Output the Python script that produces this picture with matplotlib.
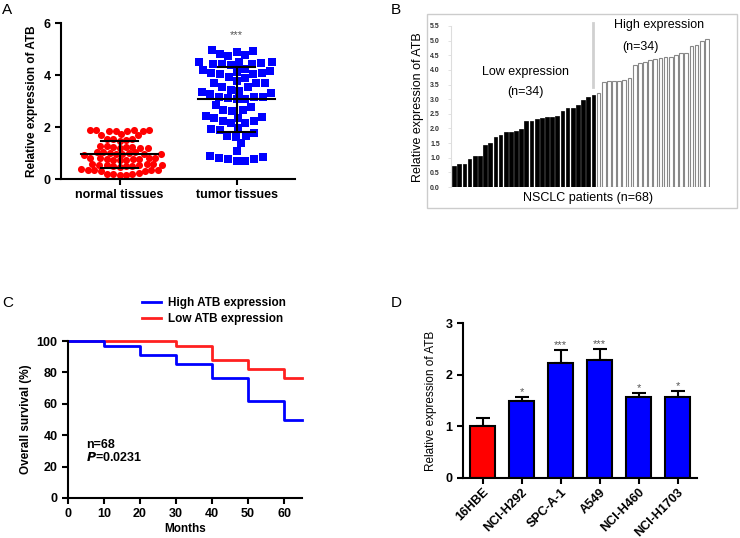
import numpy as np
import matplotlib
matplotlib.use("Agg")
import matplotlib.pyplot as plt
from matplotlib.patches import Rectangle
from matplotlib.lines import Line2D

plt.rcParams['font.family'] = ['Liberation Sans', 'DejaVu Sans']

# ---- data ----
# A: scatter of relative expression
normal_tissues = [1.90, 1.89, 1.88, 1.87, 1.86, 1.85, 1.84, 1.83,
                  1.72, 1.70, 1.68,
                  1.55, 1.53, 1.52, 1.50, 1.48,
                  1.28, 1.26, 1.25, 1.24, 1.22, 1.20, 1.19, 1.18,
                  1.05, 1.04, 1.02, 1.00, 0.99, 0.98, 0.97, 0.96, 0.95, 0.94,
                  0.82, 0.81, 0.80, 0.79, 0.78, 0.77, 0.76, 0.75, 0.74, 0.73,
                  0.58, 0.57, 0.56, 0.55, 0.54, 0.53, 0.52, 0.51, 0.50, 0.49, 0.48,
                  0.38, 0.36, 0.35, 0.34, 0.33, 0.32, 0.30,
                  0.22, 0.20, 0.19, 0.18, 0.17, 0.16]
tumor_tissues = [4.93, 4.81, 4.77, 4.90, 4.97, 4.72,
                 4.50, 4.50, 4.43, 4.40, 4.43, 4.43, 4.50, 4.47,
                 4.22, 4.17, 4.09, 4.03, 3.94, 3.87, 4.03, 4.06, 4.13, 4.19,
                 3.68, 3.53, 3.70, 3.42, 3.55, 3.70, 3.77,
                 3.36, 3.27, 3.40, 3.32, 3.17,
                 3.14, 3.08, 3.08, 3.10, 3.17,
                 2.85,
                 2.65, 2.62, 2.65, 2.76,
                 2.42, 2.36, 2.24, 2.14, 2.17, 2.24, 2.33, 2.40,
                 1.95, 1.88, 1.67, 1.63, 1.67, 1.78, 1.92,
                 1.37, 1.09,
                 0.88, 0.82, 0.76, 0.69, 0.70, 0.76, 0.86]
tissue_labels = ['normal tissues', 'tumor tissues']

# B: waterfall of 68 patients (sorted)
low_expr = [0.72, 0.79, 0.80, 0.95, 1.06, 1.07, 1.45, 1.49, 1.72, 1.77,
            1.87, 1.87, 1.91, 1.99, 2.27, 2.27, 2.32, 2.37, 2.39, 2.40,
            2.43, 2.60, 2.70, 2.71, 2.80, 2.96, 3.08, 3.15]
high_expr = [3.22, 3.57, 3.61, 3.63, 3.63, 3.65, 3.72,
             4.18, 4.25, 4.28, 4.33, 4.37, 4.41, 4.44, 4.44, 4.50, 4.58, 4.59,
             4.80, 4.86, 5.00, 5.05]
b_ticks = [0.0, 0.5, 1.0, 1.5, 2.0, 2.5, 3.0, 3.5, 4.0, 4.5, 5.0, 5.5]

# C: Kaplan-Meier survival
high_months = [0, 10, 20, 30, 40, 50, 60, 65]
high_surv = [100, 97.1, 91.2, 85.3, 76.5, 61.8, 50.0, 50.0]
low_months = [0, 30, 40, 50, 60, 65]
low_surv = [100, 97.1, 88.2, 82.4, 76.5, 76.5]

# D: cell lines
cell_lines = ['16HBE', 'NCI-H292', 'SPC-A-1', 'A549', 'NCI-H460', 'NCI-H1703']
cell_expr = [1.00, 1.49, 2.22, 2.29, 1.56, 1.56]
cell_err = [0.16, 0.08, 0.25, 0.20, 0.08, 0.12]
cell_sig = ['', '*', '***', '***', '*', '*']
cell_colors = ['#ff0000', '#0000ff', '#0000ff', '#0000ff', '#0000ff', '#0000ff']


def swarm(values, xpx, ypx, d):
    # simple beeswarm: place each point nearest to centre without overlap
    vals = np.asarray(values, dtype=float)
    order = np.argsort(vals)
    placed = []
    offs = np.zeros(len(vals))
    cand = np.concatenate([[0], np.repeat(np.arange(0.5, 80, 0.5), 2) * np.tile([1, -1], 159)])
    for i in order:
        y = vals[i] * ypx
        for c in cand:
            ok = True
            for (px, py) in placed:
                if (px - c) ** 2 + (py - y) ** 2 < d * d:
                    ok = False
                    break
            if ok:
                placed.append((c, y))
                offs[i] = c / xpx
                break
    return offs


fig = plt.figure(figsize=(7.4, 5.38), dpi=100)
W, H = 740.0, 538.0


def box(l, t, r, b):
    return [l / W, 1 - b / H, (r - l) / W, (b - t) / H]


# ---------------- Panel A ----------------
axA = fig.add_axes(box(61, 23, 295, 179))
xn = swarm(normal_tissues, 117.5, 26.0, 6.5)
xt = swarm(tumor_tissues, 117.5, 26.0, 8.8)
axA.scatter(0 + xn, normal_tissues, s=26, c='#ff0000', marker='o', linewidths=0, zorder=2)
axA.scatter(1 + xt, tumor_tissues, s=30, c='#0000ff', marker='s', linewidths=0, zorder=2)
for pos, vals in [(0, normal_tissues), (1, tumor_tissues)]:
    m = np.mean(vals)
    sd = np.std(vals, ddof=1)
    axA.plot([pos - 0.33, pos + 0.33], [m, m], color='black', lw=1.5, zorder=3)
    axA.plot([pos, pos], [m - sd, m + sd], color='black', lw=1.5, zorder=3)
    for yy in (m - sd, m + sd):
        axA.plot([pos - 0.16, pos + 0.16], [yy, yy], color='black', lw=1.5, zorder=3)
axA.text(1, 5.35, '***', ha='center', va='bottom', fontsize=8, color='#555555')
axA.set_xlim(-0.5, 1.5)
axA.set_ylim(0, 6)
axA.set_yticks([0, 2, 4, 6])
axA.set_xticks([0, 1])
axA.set_xticklabels(tissue_labels, fontsize=8.5, fontweight='bold')
axA.set_ylabel('Relative expression of ATB', fontsize=8.5, fontweight='bold', labelpad=4)
for s in ['top', 'right']:
    axA.spines[s].set_visible(False)
for s in ['left', 'bottom']:
    axA.spines[s].set_linewidth(1.5)
axA.tick_params(width=1.5, length=4, labelsize=9)
for lab in axA.get_yticklabels():
    lab.set_fontweight('bold')
fig.text(2 / W, 1 - 3 / H, 'A', fontsize=11, va='top')

# ---------------- Panel B ----------------
fig.patches.append(Rectangle((427 / W, 1 - 208 / H), 310 / W, 194 / H,
                             transform=fig.transFigure, fill=False,
                             edgecolor='#cccccc', lw=1))
axB = fig.add_axes(box(451, 26, 710, 187))
n_low = len(low_expr)
x_low = np.arange(n_low)
x_high = np.arange(n_low, n_low + len(high_expr))
axB.bar(x_low, low_expr, width=0.72, color='black', edgecolor='black', lw=0.5)
axB.bar(x_high, high_expr, width=0.72, color='white', edgecolor='#888888', lw=0.8)
axB.plot([n_low - 1, n_low - 1], [3.4, 5.6], color='#d0d0d0', lw=2, clip_on=False)
axB.set_xlim(-0.6, n_low + len(high_expr) - 0.4)
axB.set_ylim(0, 5.5)
axB.set_yticks(b_ticks)
axB.set_yticklabels(['%.1f' % v for v in b_ticks], fontsize=5, fontweight='bold', color='#333333')
axB.set_xticks([])
for s in ['top', 'right', 'bottom']:
    axB.spines[s].set_visible(False)
axB.spines['left'].set_color('#dddddd')
axB.tick_params(axis='y', length=2, width=0.6, color='#dddddd', pad=6)
axB.text(13.8, 3.92, 'Low expression', ha='center', va='center', fontsize=9)
axB.text(13.8, 3.24, '(n=34)', ha='center', va='center', fontsize=9)
axB.text(39.7, 5.52, 'High expression', ha='center', va='center', fontsize=9, clip_on=False)
axB.text(36.2, 4.77, '(n=34)', ha='center', va='center', fontsize=9)
fig.text(588 / W, 1 - 198 / H, 'NSCLC patients (n=68)', ha='center', va='center', fontsize=9)
fig.text(418 / W, 1 - 107 / H, 'Relative expression of ATB', ha='center', va='center',
         rotation=90, fontsize=9)
fig.text(391 / W, 1 - 3 / H, 'B', fontsize=11, va='top')

# ---------------- Panel C ----------------
axC = fig.add_axes(box(68, 341, 302, 498))
axC.step(low_months, low_surv, where='post', color='#ff2020', lw=2, clip_on=False)
axC.step(high_months, high_surv, where='post', color='#0000ff', lw=2, clip_on=False)
axC.set_xlim(0, 65)
axC.set_ylim(0, 100)
axC.set_xticks(range(0, 61, 10))
axC.set_yticks(range(0, 101, 20))
axC.set_xlabel('Months', fontsize=8.5, fontweight='bold', labelpad=2)
axC.set_ylabel('Overall survival (%)', fontsize=8.5, fontweight='bold', labelpad=3)
for s in ['top', 'right']:
    axC.spines[s].set_visible(False)
for s in ['left', 'bottom']:
    axC.spines[s].set_linewidth(1.5)
axC.tick_params(width=1.5, length=4, labelsize=9)
for lab in axC.get_xticklabels() + axC.get_yticklabels():
    lab.set_fontweight('bold')
axC.text(5, 34, 'n=68', fontsize=9, fontweight='bold', va='center')
axC.text(5, 26, r'$\mathbfit{P}$=0.0231', fontsize=9, fontweight='bold', va='center')
handles = [Line2D([], [], color='#0000ff', lw=2), Line2D([], [], color='#ff2020', lw=2)]
fig.legend(handles, ['High ATB expression', 'Low ATB expression'],
           loc='upper left', bbox_to_anchor=(137 / W, 1 - 292 / H),
           frameon=False, prop={'weight': 'bold', 'size': 8.5},
           handlelength=1.6, handletextpad=0.6, labelspacing=0.35, borderaxespad=0)
fig.text(2 / W, 1 - 296 / H, 'C', fontsize=11, va='top')

# ---------------- Panel D ----------------
axD = fig.add_axes(box(463, 323, 697, 478))
xd = np.arange(len(cell_lines))
axD.bar(xd, cell_expr, width=0.65, color=cell_colors, edgecolor='black', lw=1.5, zorder=2)
axD.errorbar(xd, cell_expr, yerr=[np.zeros(len(cell_err)), cell_err], fmt='none',
             ecolor='black', elinewidth=1.5, capsize=5, capthick=1.5, zorder=1)
for xi, v, e, s in zip(xd, cell_expr, cell_err, cell_sig):
    axD.text(xi, v + e + 0.0, s, ha='center', va='bottom', fontsize=8, color='#555555')
axD.set_xlim(-0.5, len(cell_lines) - 0.5)
axD.set_ylim(0, 3)
axD.set_yticks([0, 1, 2, 3])
axD.set_xticks(xd)
axD.set_xticklabels(cell_lines, rotation=45, ha='right', rotation_mode='anchor',
                    fontsize=7.8, fontweight='bold')
axD.set_ylabel('Relative expression of ATB', fontsize=8.5, labelpad=6)
for s in ['top', 'right']:
    axD.spines[s].set_visible(False)
for s in ['left', 'bottom']:
    axD.spines[s].set_linewidth(1.5)
axD.tick_params(width=1.5, length=4, labelsize=9)
axD.tick_params(axis='x', pad=2)
for lab in axD.get_yticklabels():
    lab.set_fontweight('bold')
fig.text(391 / W, 1 - 296 / H, 'D', fontsize=11, va='top')

fig.savefig('out.png', dpi=100)
